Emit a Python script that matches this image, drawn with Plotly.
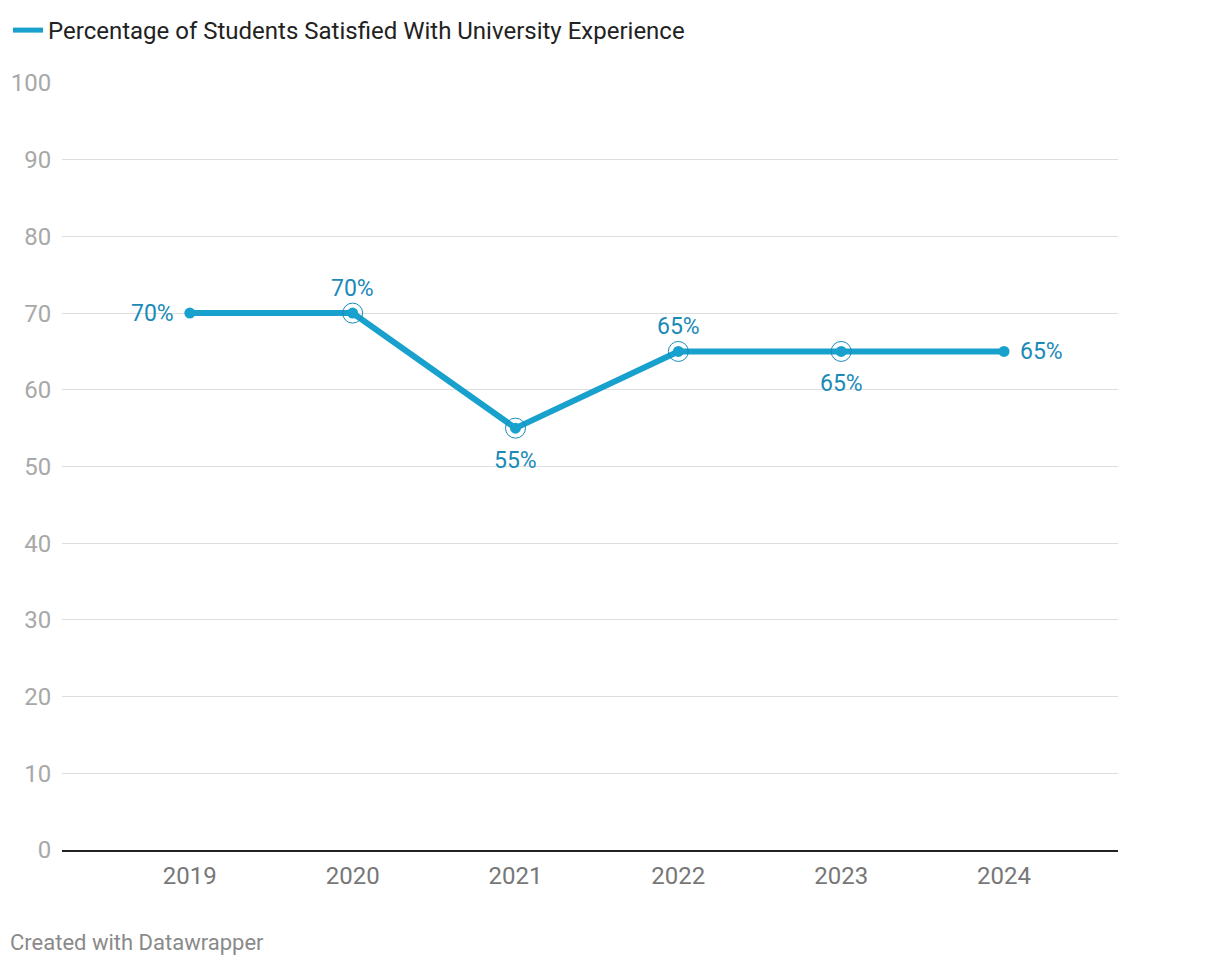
import plotly.graph_objects as go

years = ["2019", "2020", "2021", "2022", "2023", "2024"]
values = [70, 70, 55, 65, 65, 65]
labels = ["70%", "70%", "55%", "65%", "65%", "65%"]
label_side = ["left", "top", "bottom", "top", "bottom", "right"]
y_ticks = [0, 10, 20, 30, 40, 50, 60, 70, 80, 90, 100]
series_name = "Percentage of Students Satisfied With University Experience"

LINE = "#18a1cd"
LABEL = "#1a8ab8"

fig = go.Figure()
# legend-only entry (line symbol without a dot)
fig.add_trace(go.Scatter(
    x=[None], y=[None], mode="lines", name=series_name,
    line=dict(color=LINE, width=5),
))
fig.add_trace(go.Scatter(
    x=years, y=values, mode="lines+markers", name=series_name,
    line=dict(color=LINE, width=6),
    marker=dict(size=11, color=LINE),
    showlegend=False, hoverinfo="skip",
))
fig.add_trace(go.Scatter(
    x=years[1:5], y=values[1:5], mode="markers",
    marker=dict(size=20, symbol="circle-open", color=LABEL, line=dict(width=1, color=LABEL)),
    showlegend=False, hoverinfo="skip",
))

shift = {"left": (-14, 0, "right", "middle"),
         "right": (14, 0, "left", "middle"),
         "top": (0, 25, "center", "middle"),
         "bottom": (0, -32, "center", "middle")}
annotations = []
for i, (v, t, side) in enumerate(zip(values, labels, label_side)):
    xs, ys, xa, ya = shift[side]
    annotations.append(dict(x=i, y=v, xref="x", yref="y", text=t, showarrow=False,
                            xshift=xs, yshift=ys, xanchor=xa, yanchor=ya,
                            font=dict(family="Roboto", size=23, color=LABEL)))
annotations.append(dict(text="Created with Datawrapper", xref="paper", yref="paper",
                        x=-54/1056, y=-92/767, xanchor="left", yanchor="middle",
                        showarrow=False, font=dict(family="Roboto", size=22, color="#8a8a8a")))

fig.update_layout(
    width=1220, height=966,
    margin=dict(l=54, r=110, t=75, b=124),
    paper_bgcolor="white", plot_bgcolor="white",
    font=dict(family="Roboto", size=24, color="#999999"),
    showlegend=True,
    legend=dict(orientation="h", xref="container", yref="container", x=0.0, y=1.0,
                xanchor="left", yanchor="top", font=dict(size=24, color="#222222"),
                itemwidth=30, tracegroupgap=0),
    xaxis=dict(type="category", range=[-0.785, 5.7], showgrid=False, automargin=False,
               showline=True, linecolor="#222222", linewidth=1.5,
               ticks="outside", ticklen=3, tickcolor="rgba(0,0,0,0)",
               tickfont=dict(size=24, color="#777777"), zeroline=False),
    yaxis=dict(range=[0, 100], tickvals=y_ticks, showgrid=True, gridcolor="#dedede",
               gridwidth=1, zeroline=False, showline=False, automargin=False,
               ticks="outside", ticklen=5, tickcolor="rgba(0,0,0,0)",
               tickfont=dict(size=24, color="#a8a8a8")),
    annotations=annotations,
)
fig.write_html("out.html")
